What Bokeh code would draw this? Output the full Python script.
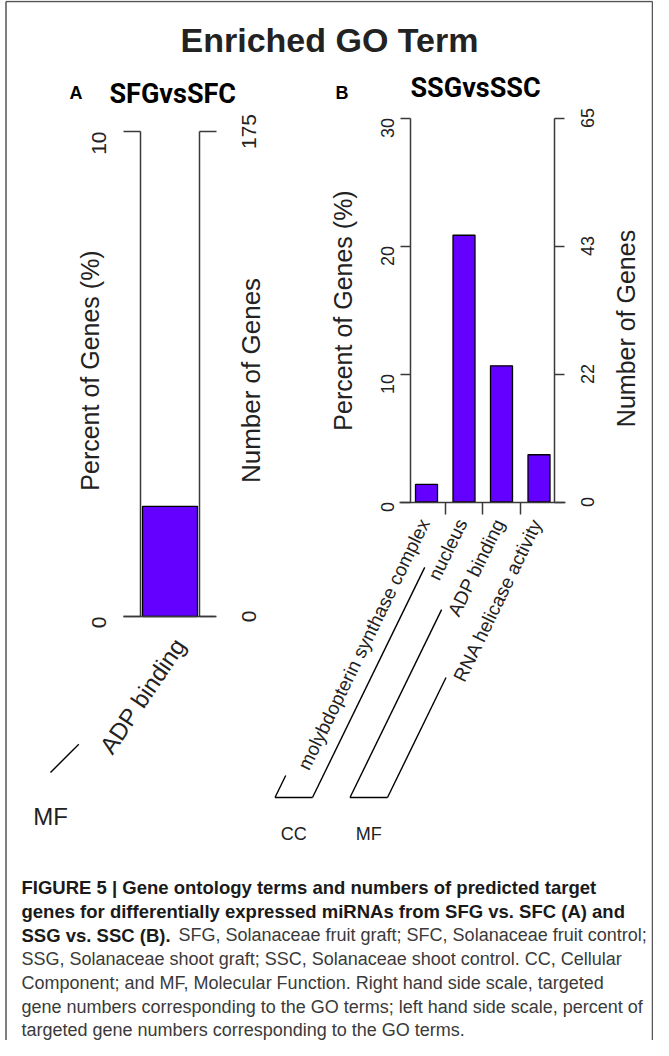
import math
from bokeh.plotting import figure
from bokeh.models import Range1d, LinearAxis, FixedTicker
from bokeh.embed import file_html
from bokeh.resources import INLINE
from bokeh.core.properties import value

# ---------------- data ----------------
main_title = "Enriched GO Term"
panel_tags = ["A", "B"]
panel_titles = ["SFGvsSFC", "SSGvsSSC"]
left_title = "Percent of Genes (%)"
right_title = "Number of Genes"

a_terms = ["ADP binding"]
a_groups = ["MF"]
a_percent = [2.27]
a_pct_ticks = [0, 10]
a_num_labels = ["0", "175"]

b_terms = ["molybdopterin synthase complex", "nucleus", "ADP binding", "RNA helicase activity"]
b_groups = ["CC", "CC", "MF", "MF"]
b_percent = [1.37, 20.84, 10.64, 3.69]
b_pct_ticks = [0, 10, 20, 30]
b_num_labels = ["0", "22", "43", "65"]

caption_bold = [
    "FIGURE 5 | Gene ontology terms and numbers of predicted target",
    "genes for differentially expressed miRNAs from SFG vs. SFC (A) and",
    "SSG vs. SSC (B).",
]
caption_regular = [
    "SFG, Solanaceae fruit graft; SFC, Solanaceae fruit control;",
    "SSG, Solanaceae shoot graft; SSC, Solanaceae shoot control. CC, Cellular",
    "Component; and MF, Molecular Function. Right hand side scale, targeted",
    "gene numbers corresponding to the GO terms; left hand side scale, percent of",
    "targeted gene numbers corresponding to the GO terms.",
]

# ---------------- layout / style ----------------
W, H = 653, 1040
OX, OY = 8, 8
BAR = "#6400ff"
INK = "#222222"
LINE = "#3a3a3a"
SANS = "Liberation Sans"
HEAD = "Roboto"

p = figure(width=W, height=H, x_range=Range1d(OX, OX + W), y_range=Range1d(OY + H, OY),
           title=None, output_backend="svg", toolbar_location=None, x_axis_location=None,
           y_axis_location=None, min_border=0, outline_line_color=None,
           background_fill_color="white", border_fill_color="white")
p.grid.visible = False


def y_range_for(zero_px, k):
    return Range1d(start=(zero_px - (OY + H)) / k, end=(zero_px - OY) / k)


def x_range_for(c0_px, k):
    return Range1d(start=(OX - c0_px) / k, end=(OX + W - c0_px) / k)


panels = [
    dict(key="a", terms=a_terms, groups=a_groups, pct=a_percent, ticks=a_pct_ticks,
         nums=a_num_labels, zero=624, kpct=48.5, c0=177.5, kcat=60, barw=55,
         left=148, right=206.5, base=(131, 223), tick=17, tfont="21px", so_l=25, rlab_x=256,
         lab_ang=56, lab_dx=10, lab_dy=24, lab_font="24px",
         leg_dx=-119.5, leg_bottom=780, leg_ang=45, leg_len=[40], grp_font="24px", grp_y=824,
         ltitle=(97, 378, "25px"), rtitle=(258, 388, "26px")),
    dict(key="b", terms=b_terms, groups=b_groups, pct=b_percent, ticks=b_pct_ticks,
         nums=b_num_labels, zero=509.5, kpct=12.8, c0=434, kcat=37.5, barw=22,
         left=418, right=562, base=(407, 573), tick=10, tfont="18px", so_l=13, rlab_x=595,
         lab_ang=64, lab_dx=-2, lab_dy=18, lab_font="19px",
         leg_dx=-151.5, leg_bottom=805, leg_ang=64, leg_len=[24.5, 256, 209, 133.5],
         grp_font="18px", grp_y=841,
         ltitle=(350, 318, "25px"), rtitle=(633, 336, "25px")),
]

for sp in panels:
    yk, xk = "p" + sp["key"], "x" + sp["key"]
    p.extra_y_ranges[yk] = y_range_for(sp["zero"], sp["kpct"])
    p.extra_x_ranges[xk] = x_range_for(sp["c0"], sp["kcat"])
    n = len(sp["terms"])
    idx = list(range(n))

    p.vbar(x=idx, top=sp["pct"], bottom=0, width=sp["barw"] / sp["kcat"],
           x_range_name=xk, y_range_name=yk, fill_color=BAR, line_color="black", line_width=1.3)

    common = dict(major_tick_in=0, minor_tick_in=0, minor_tick_out=0,
                  axis_line_color=LINE, axis_line_width=1.5,
                  major_tick_line_color=LINE, major_tick_line_width=1.5,
                  major_label_text_font=SANS, major_label_text_color=INK,
                  major_label_text_font_size=sp["tfont"], major_label_orientation=math.pi / 2,
                  major_tick_out=sp["tick"], ticker=FixedTicker(ticks=sp["ticks"]),
                  bounds=(min(sp["ticks"]), max(sp["ticks"])))
    ax_l = LinearAxis(y_range_name=yk, fixed_location=sp["left"],
                      major_label_overrides={t: str(t) for t in sp["ticks"]},
                      major_label_standoff=sp["so_l"], **common)
    p.add_layout(ax_l, "left")
    common["major_label_text_color"] = None
    ax_r = LinearAxis(y_range_name=yk, fixed_location=sp["right"],
                      major_label_overrides={t: "" for t in sp["ticks"]}, **common)
    p.add_layout(ax_r, "right")
    # right-hand scale labels (gene numbers) at the percent tick positions
    p.text(x=[sp["rlab_x"]] * len(sp["ticks"]), y=sp["ticks"], text=sp["nums"], y_range_name=yk,
           angle=math.pi / 2, text_align="center", text_baseline="middle",
           text_font=value(SANS), text_font_size=sp["tfont"], text_color=INK)

    # category baseline with ticks between bars
    between = [i + 0.5 for i in range(n - 1)]
    b0 = (sp["base"][0] - sp["c0"]) / sp["kcat"]
    b1 = (sp["base"][1] - sp["c0"]) / sp["kcat"]
    ax_b = LinearAxis(x_range_name=xk, y_range_name=yk, fixed_location=0,
                      ticker=FixedTicker(ticks=between), bounds=(b0, b1),
                      major_label_overrides={t: "" for t in between}, major_label_text_color=None,
                      major_tick_out=12, major_tick_in=0, minor_tick_in=0, minor_tick_out=0,
                      axis_line_color=LINE, axis_line_width=1.5,
                      major_tick_line_color=LINE, major_tick_line_width=1.5)
    p.add_layout(ax_b, "below")

    # rotated category labels
    p.text(x=idx, y=[0] * n, text=sp["terms"], x_range_name=xk, y_range_name=yk,
           angle=math.radians(sp["lab_ang"]), x_offset=sp["lab_dx"], y_offset=sp["lab_dy"],
           text_align="right", text_baseline="middle", text_font=value(SANS),
           text_font_size=sp["lab_font"], text_color=INK)

    # group brackets
    centers = [sp["c0"] + sp["kcat"] * i for i in idx]
    bx = [c + sp["leg_dx"] for c in centers]
    a = math.radians(sp["leg_ang"])
    tx = [x + L * math.cos(a) for x, L in zip(bx, sp["leg_len"])]
    ty = [sp["leg_bottom"] - L * math.sin(a) for L in sp["leg_len"]]
    p.segment(x0=bx, y0=[sp["leg_bottom"]] * n, x1=tx, y1=ty, line_color="black", line_width=1.4)
    glabels, gx = [], []
    for g in dict.fromkeys(sp["groups"]):
        members = [bx[i] for i in idx if sp["groups"][i] == g]
        if len(members) > 1:
            p.segment(x0=[min(members)], y0=[sp["leg_bottom"]], x1=[max(members)],
                      y1=[sp["leg_bottom"]], line_color="black", line_width=1.4)
        glabels.append(g)
        gx.append(sum(members) / len(members))
    p.text(x=gx, y=[sp["grp_y"]] * len(gx), text=glabels, text_align="center",
           text_baseline="alphabetic", text_font=value(SANS), text_font_size=sp["grp_font"],
           text_color=INK)

    # axis titles
    for (x, y, fs), t in ((sp["ltitle"], left_title), (sp["rtitle"], right_title)):
        p.text(x=[x], y=[y], text=[t], angle=math.pi / 2, text_align="center",
               text_baseline="middle", text_font=value(SANS), text_font_size=fs, text_color=INK)

# titles
p.text(x=[337], y=[47], text=[main_title], text_align="center", text_baseline="alphabetic",
       text_font=value(SANS), text_font_style="bold", text_font_size="34px", text_color=INK)
p.text(x=[77, 343], y=[100, 100], text=panel_tags, text_align="left", text_baseline="alphabetic",
       text_font=value(SANS), text_font_style="bold", text_font_size="18px", text_color="black")
p.text(x=[117, 418], y=[101, 95], text=panel_titles, text_align="left", text_baseline="alphabetic",
       text_font=value(HEAD), text_font_style="bold", text_font_size="27px", text_color="black")

# border of the figure box
p.segment(x0=[13.5, 13.5, 660], y0=[9, 9, 9], x1=[13.5, 660, 660], y1=[1060, 9, 1060],
          line_color="#555555", line_width=1.5)

# caption
cap_x = 29
cap_y0 = 895
cap_dy = 23.8
p.text(x=[cap_x] * 3, y=[cap_y0 + cap_dy * i for i in range(3)], text=caption_bold,
       text_align="left", text_baseline="alphabetic", text_font=value(SANS),
       text_font_style="bold", text_font_size="18.5px", text_color="#1a1a1a")
reg_x = [186] + [cap_x] * 4
reg_y = [cap_y0 + cap_dy * (2 + i) for i in range(5)]
p.text(x=reg_x, y=reg_y, text=caption_regular, text_align="left", text_baseline="alphabetic",
       text_font=value(SANS), text_font_size="18px", text_color="#3a3a3a")

open("out.html", "w").write(file_html(p, INLINE))
